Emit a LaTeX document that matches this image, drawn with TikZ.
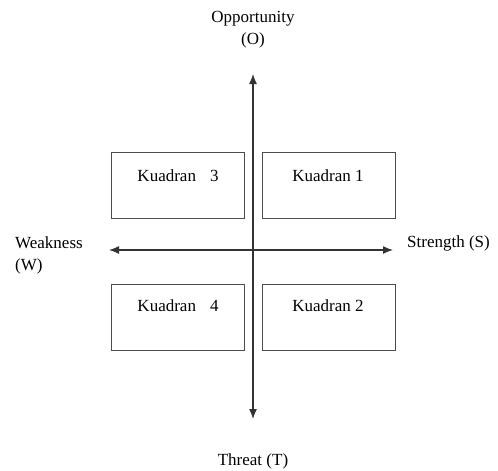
\documentclass[tikz,border=0pt]{standalone}
\usepackage{fontspec}
\setmainfont{Liberation Serif}
\usetikzlibrary{arrows.meta}
\begin{document}
\begin{tikzpicture}[x=1pt,y=-1pt,
  quad/.style={draw=black!70,line width=1.2pt,minimum width=133pt,minimum height=66pt,inner sep=0pt,anchor=north west},
  lbl/.style={font=\fontsize{17}{22}\selectfont,inner sep=0pt,align=center},
  axis/.style={draw=black!80,line width=1.3pt,-{Latex[length=10pt,width=8pt]}}]
\useasboundingbox (0,0) rectangle (498,471);
\node[quad] (q3) at (111,152) {};
\node[quad] (q1) at (262,152) {};
\node[quad] (q4) at (111,284) {};
\node[quad] (q2) at (262,284) {};
\node[lbl] (t3) at (178,176) {Kuadran\hspace{14pt}3};
\node[lbl] (t1) at (328,176) {Kuadran 1};
\node[lbl] (t4) at (178,306) {Kuadran\hspace{14pt}4};
\node[lbl] (t2) at (328,306) {Kuadran 2};
\coordinate (c) at (253,250);
\coordinate (top) at (253,74);
\coordinate (bot) at (253,419);
\coordinate (lft) at (109,250);
\coordinate (rgt) at (393,250);
\draw[axis] (c) -- (top);
\draw[axis] (c) -- (bot);
\draw[axis] (c) -- (lft);
\draw[axis] (c) -- (rgt);
\node[lbl] (o) at (253,30) {Opportunity\\(O)};
\node[lbl,align=left,anchor=west] (w) at (15,255) {Weakness\\(W)};
\node[lbl,anchor=west] (s) at (407,243) {Strength (S)};
\node[lbl] (t) at (253,461) {Threat (T)};
\end{tikzpicture}
\end{document}
